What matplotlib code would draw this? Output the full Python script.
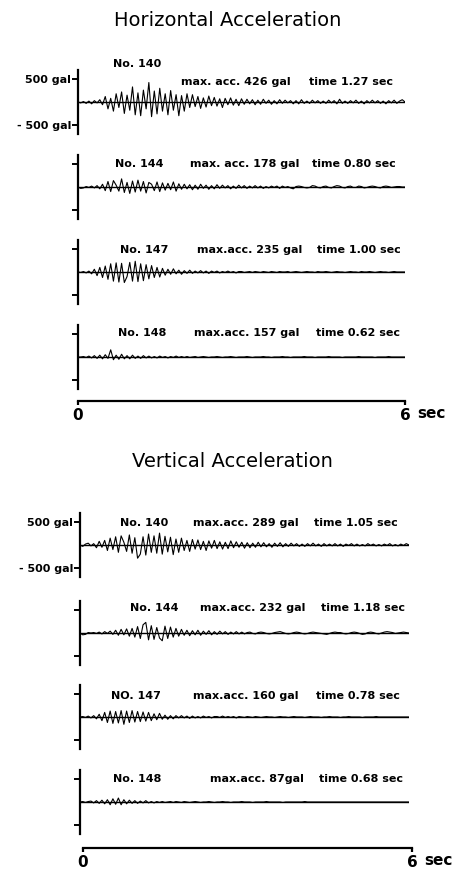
import matplotlib
matplotlib.use("Agg")
import matplotlib.pyplot as plt
import numpy as np

plt.rcParams['font.family'] = ['DejaVu Sans']

# acceleration records (gal), read every 0.05 s from 0 to 6 s
record_names = ["No. 140", "No. 144", "No. 147", "No. 148"]
record_names_v = ["No. 140", "No. 144", "NO. 147", "No. 148"]

h140 = [0, -20, 10, -30, 20, -40, 30, -20, 50, -60,
        120, -150, 80, -200, 180, -120, 220, -250, 150, -180,
        330, -280, 200, -300, 260, -150, 426, -320, 240, -260,
        300, -200, 180, -280, 250, -180, 160, -300, 140, -200,
        180, -120, 160, -100, 120, -140, 90, -110, 130, -80,
        100, -90, 70, -120, 80, -60, 90, -70, 60, -80,
        70, -50, 60, -40, 50, -60, 40, -50, 60, -30,
        40, -50, 30, -40, 50, -30, 40, -20, 30, -40,
        30, -40, 50, -30, 20, -30, 40, -20, 30, -30,
        20, -30, 40, -20, 30, -40, 60, -30, 20, -30,
        30, -20, 40, -30, 20, -40, 30, -20, 40, -20,
        30, -30, 20, -40, 30, -20, 40, -30, 20, 50, 0]
h144 = [0, -30, -20, 10, -10, 20, -20, 30, -40, 60,
        -80, 120, -100, 140, 40, -90, 178, -120, 100, -140,
        130, -110, 150, -90, 120, -130, 100, 60, -80, 110,
        -100, 90, -70, 80, -60, 110, -90, 70, -50, 60,
        -40, 50, -60, 40, -50, 60, -30, 40, -50, 30,
        -40, 50, -30, 40, -20, 30, -40, 20, -30, 40,
        -20, 30, -30, 20, -20, 30, -20, 20, -30, 10,
        -20, 20, -10, 20, -30, 20, -10, 10, -20, -40,
        10, 20, 10, -10, -20, -10, 30, 20, -10, -20,
        10, 20, -10, -20, 10, 30, 20, -10, -20, 10,
        20, -10, -10, 20, 10, -20, -10, 10, 20, 10,
        -10, -20, 10, 20, 10, -10, 0, 10, 10, 0, 0]
h147 = [0, -10, 10, -20, 20, -40, 60, -80, 100, -120,
        130, -160, 180, -200, 200, -220, 190, -230, -100, 210,
        -200, 235, -210, 180, -190, 160, -150, 140, -120, 100,
        -110, 80, -70, 60, -50, 70, -40, 40, -50, 30,
        -30, 40, -30, 20, -20, 30, -20, 20, -30, 20,
        -10, 20, -20, 10, -10, 20, -10, 10, -20, 10,
        10, -10, 0, 10, -10, 10, 0, -10, 10, 0,
        -10, 10, 0, -10, 10, 0, 0, 10, -10, 0,
        10, 0, -10, 0, 10, 0, 0, -10, 10, 0,
        0, 10, 0, -10, 0, 10, 0, 0, -10, 0,
        10, 0, 0, -10, 10, 0, 0, 10, 0, -10,
        0, 10, 0, 0, -10, 0, 10, 0, 0, 0, 0]
h148 = [0, 0, 10, -10, 20, -20, 30, -30, 40, -40,
        50, -30, 157, -60, 40, -50, 60, -40, 30, -40,
        40, -30, 20, -30, 30, -20, 20, -20, 10, -20,
        20, -10, 10, -20, 10, -10, 20, -10, 10, -10,
        10, -10, 0, 10, -10, 0, 10, 0, -10, 0,
        0, 10, 0, -10, 0, 0, 10, 0, -10, 0,
        0, 0, 10, 0, -10, 0, 0, 0, 10, 0,
        0, -10, 0, 0, 0, 10, 0, 0, -10, 0,
        0, 0, 0, 10, 0, 0, 0, -10, 0, 0,
        0, 0, 10, 0, 0, 0, 0, -10, 0, 0,
        0, 0, 0, 10, 0, 0, 0, 0, 0, -10,
        0, 0, 0, 0, 10, 0, 0, 0, 0, 0, 0]

v140 = [0, -30, 20, 40, -20, 30, -60, 80, -50, 100,
        -120, 150, -100, 180, -160, 200, 60, -140, 220, -180,
        160, -289, -200, 180, -220, 240, -160, 200, -180, 260,
        -200, 190, -150, 170, -210, 130, -160, 150, -120, 100,
        -140, 120, -90, 110, -100, 80, -120, 90, -70, 100,
        -80, 70, -90, 60, -80, 90, -60, 70, -50, 60,
        -70, 50, -60, 40, -50, 60, -40, 50, -40, 30,
        -50, 40, -30, 50, -40, 30, -30, 40, -20, 30,
        -30, 20, -30, 30, -20, 40, -20, 20, -30, 30,
        -20, 20, -20, 30, -20, 20, -30, 20, -10, 30,
        -20, 20, -20, 10, -20, 30, -10, 20, -20, 10,
        -20, 20, -10, 30, -20, 10, -20, 20, -10, 30, 0]
v144 = [0, -40, -30, 10, 0, 10, -10, 20, -20, 30,
        -10, 40, -30, 60, -50, 80, -40, 90, -70, 100,
        -90, 140, -120, 180, 232, -150, 160, -140, 120, -110,
        -170, 150, -120, 130, -90, 100, -70, 80, -50, 60,
        -60, 50, -40, 60, -50, 40, -30, 50, -40, 30,
        -30, 40, -20, 30, -30, 20, -20, 30, -20, 20,
        -20, 10, 20, -10, -20, 10, 20, 10, -10, -20,
        -10, 10, 20, 30, 10, -10, -20, -10, 10, 20,
        10, -10, -20, -10, 10, 20, 10, 0, -10, -20,
        -30, -10, 10, 20, 10, 10, -10, -20, -10, 10,
        20, 10, -10, -30, -20, 10, 20, 10, -10, -20,
        0, 20, 30, 20, 10, -10, 0, 10, 20, 10, 0]
v147 = [0, 10, -10, 20, -20, 30, -40, 60, -80, 100,
        -120, 130, -140, 120, -130, 140, -160, 130, -120, 140,
        -110, 120, -100, 110, -90, 100, -80, 70, -60, 80,
        -50, 40, -50, 30, -40, 30, -20, 30, -20, 20,
        -30, 20, -20, 10, -20, 20, -10, 10, -20, 10,
        10, -10, 20, -10, 10, -10, 10, -20, 10, 0,
        -10, 10, 0, -10, 10, 0, -10, 0, 10, 0,
        0, -10, 0, 10, 0, 0, -10, 0, 10, 0,
        0, 0, -10, 0, 10, 0, 0, 0, -10, 0,
        0, 10, 0, 0, 0, -10, 0, 0, 10, 0,
        0, 0, 0, -10, 0, 0, 0, 0, 10, 0,
        0, 0, 0, 0, 0, 0, 0, 0, 0, 0, 0]
v148 = [0, 10, -10, 10, 20, -20, 30, -30, 40, -40,
        50, -60, 70, -50, 87, -60, 50, -40, 40, -30,
        30, -30, 20, -20, 30, -20, 10, -20, 10, -10,
        10, -10, 0, 10, -10, 10, 0, -10, 10, 0,
        -10, 0, 10, 0, -10, 0, 0, 10, 0, -10,
        0, 0, 10, 0, 0, -10, 0, 0, 0, 10,
        0, 0, 0, -10, 0, 0, 0, 0, 10, 0,
        0, 0, 0, 0, -10, 0, 0, 0, 0, 0,
        0, 0, 10, 0, 0, 0, 0, 0, 0, 0,
        0, 0, 0, 0, 0, 0, 0, 0, 0, 0,
        0, 0, 0, 0, 0, 0, 0, 0, 0, 0,
        0, 0, 0, 0, 0, 0, 0, 0, 0, 0, 0]

h_max = ["max. acc. 426 gal", "max. acc. 178 gal", "max.acc. 235 gal", "max.acc. 157 gal"]
h_time = ["time 1.27 sec", "time 0.80 sec", "time 1.00 sec", "time 0.62 sec"]
v_max = ["max.acc. 289 gal", "max.acc. 232 gal", "max.acc. 160 gal", "max.acc. 87gal"]
v_time = ["time 1.05 sec", "time 1.18 sec", "time 0.78 sec", "time 0.68 sec"]

W, H = 460, 869
fig = plt.figure(figsize=(W / 100, H / 100), dpi=100)


def draw_panel(traces, names, maxs, times, centers, x0, x1, axis_y, ax0, ax1, label_pos):
    for k, vals in enumerate(traces):
        c = centers[k]
        ax = fig.add_axes([x0 / W, 1 - (c + 32) / H, (x1 - x0) / W, 64 / H])
        t = np.linspace(0, 6, len(vals))
        ax.plot(t, vals, color="black", lw=0.8)
        ax.axhline(0, color="black", lw=1.0)
        ax.set_xlim(0, 6)
        ax.set_ylim(-700, 700)
        ax.patch.set_alpha(0)
        for s in ["top", "right", "bottom"]:
            ax.spines[s].set_visible(False)
        ax.spines["left"].set_linewidth(1.6)
        ax.set_xticks([])
        ax.set_yticks([500, -500])
        ax.tick_params(axis="y", direction="out", length=4, width=1.4, pad=1)
        if k == 0:
            ax.set_yticklabels(["500 gal", "- 500 gal"], fontsize=8, fontweight="bold")
        else:
            ax.set_yticklabels([])
        nx, my, mx, tx, ly = label_pos[k]
        kw = dict(fontsize=8, fontweight="bold", ha="left", va="center", clip_on=False)
        ax.text(nx, ly, names[k], **kw)
        ax.text(mx, my, maxs[k], **kw)
        ax.text(tx, my, times[k], **kw)
    # time axis
    tax = fig.add_axes([ax0 / W, 1 - (axis_y + 1) / H, (ax1 - ax0) / W, 8 / H])
    tax.set_xlim(0, 6)
    tax.set_ylim(0, 1)
    tax.patch.set_alpha(0)
    for s in ["top", "right", "left"]:
        tax.spines[s].set_visible(False)
    tax.spines["bottom"].set_linewidth(1.6)
    tax.set_yticks([])
    tax.set_xticks([0, 6])
    tax.set_xticklabels(["0", "6"], fontsize=11, fontweight="bold")
    tax.tick_params(axis="x", direction="out", length=3, width=1.6, pad=2)
    tax.annotate("sec", xy=(6, 0), xycoords="data", xytext=(9, -9),
                 textcoords="offset points", fontsize=11, fontweight="bold",
                 ha="left", va="center", annotation_clip=False)


# (No. x, max/time height in gal, max x, time x, No. height in gal)
h_labels = [(0.64, 435, 1.89, 4.24, 826), (0.68, 500, 2.06, 4.29, 500),
            (0.77, 478, 2.18, 4.39, 478), (0.73, 520, 2.13, 4.37, 520)]
v_labels = [(0.73, 478, 2.06, 4.27, 478), (0.91, 543, 2.19, 4.40, 543),
            (0.57, 457, 2.06, 4.30, 457), (0.60, 500, 2.37, 4.36, 500)]

draw_panel([h140, h144, h147, h148], record_names, h_max, h_time,
           [102, 187, 272, 357], 78, 405, 400, 78, 405, h_labels)
draw_panel([v140, v144, v147, v148], record_names_v, v_max, v_time,
           [545, 633, 717, 802], 80, 409, 847, 83, 412, v_labels)

fig.text(228 / W, 1 - 20 / H, "Horizontal Acceleration", fontsize=14,
         ha="center", va="center")
fig.text(232 / W, 1 - 462 / H, "Vertical Acceleration", fontsize=14,
         ha="center", va="center")

fig.savefig("out.png", dpi=100, facecolor="white")
